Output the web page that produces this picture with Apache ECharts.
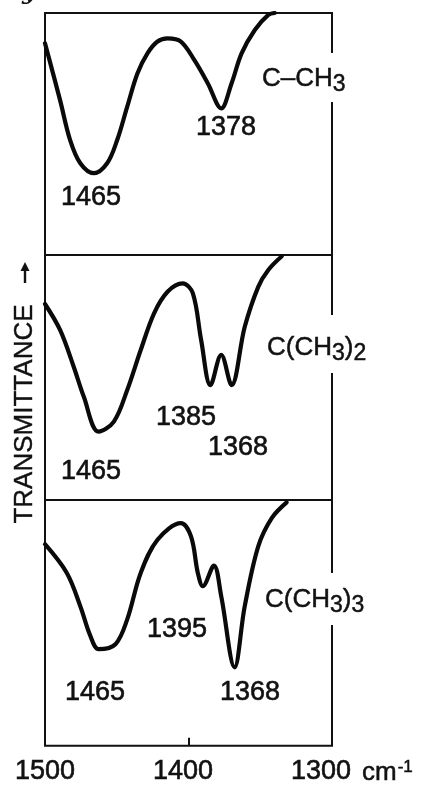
<!DOCTYPE html>
<html><head><meta charset="utf-8">
<script src="https://cdn.jsdelivr.net/npm/echarts@6/dist/echarts.min.js"></script>
<style>html,body{margin:0;padding:0;background:#fff}#c{width:422px;height:785px}</style>
</head><body><div id="c"></div>
<script>
// x-axis ticks (cm-1)
const xTicks = [1500, 1400, 1300];
// Panel 1: C-CH3
const wn1 = [1500,1489.5,1482.5,1475.4,1466,1456.7,1449.7,1442.7,1435.6,1428.6,1421.6,1414.6,1405.3,1396,1386.5,1377.2,1370,1363,1353.8,1344.4,1340];
const t1  = [87.5,64,47.5,37.9,33.8,37.9,47.5,61.3,75,83.3,88.2,89.5,88.2,80.6,70.9,60.6,70.9,83.3,93,99.2,100];
// Panel 2: C(CH3)2
const wn2 = [1500,1489.5,1480,1473,1462.6,1452,1442.7,1433.3,1424,1414.6,1404,1397,1391.2,1384.7,1377.2,1370,1360.8,1351.4,1344.4,1335];
const t2  = [80,69.4,54.4,42.2,27.9,32,44.9,61.2,76.2,85,88.4,84.4,65.3,46.9,59.2,46.9,70.7,87,93.9,99.5];
// Panel 3: C(CH3)3
const wn3 = [1500,1484.8,1475.4,1468.4,1462.6,1450.9,1442.7,1433.3,1421.6,1405.3,1398.2,1393.5,1390,1382.3,1377.2,1367.9,1360.8,1351.4,1342,1331.6];
const t3  = [82,70.3,56.8,44.7,39.3,41.3,51.4,70.3,83.8,90.6,85.1,70.3,64.9,73.3,60.9,31.9,56.8,81.1,92.6,99];
// Annotations
const peakLabels1 = ['1465', '1378'];
const peakLabels2 = ['1465', '1385', '1368'];
const peakLabels3 = ['1465', '1395', '1368'];
const yTitle = 'TRANSMITTANCE';

const FONT = '"Liberation Sans", "DejaVu Sans", sans-serif';
const chart = echarts.init(document.getElementById('c'), null, {renderer: 'canvas'});

function zip(a, b) { return a.map((v, i) => [v, b[i]]); }

const gridL = 45, gridW = 287;
const grids = [
  {left: gridL, width: gridW, top: 13, height: 242},
  {left: gridL, width: gridW, top: 255, height: 245},
  {left: gridL, width: gridW, top: 500, height: 246}
].map(g => Object.assign(g, {show: true, borderColor: '#111', borderWidth: 2, backgroundColor: 'transparent'}));

function xAxis(i, showLabels) {
  return {
    type: 'value', gridIndex: i, min: 1300, max: 1500, interval: 100, inverse: true,
    axisLine: {show: false}, splitLine: {show: false},
    axisTick: {show: showLabels, inside: true, length: 8, lineStyle: {color: '#111', width: 2}},
    axisLabel: {
      show: showLabels, margin: 12, color: '#111', fontSize: 27, fontFamily: FONT,
      textBorderColor: '#111', textBorderWidth: 0.6,
      formatter: v => '{l' + v + '|' + v + '}',
      rich: {
        l1500: {fontSize: 27, fontFamily: FONT, color: '#111', textBorderColor: '#111', textBorderWidth: 0.6, padding: [0, 0, 0, 0]},
        l1400: {fontSize: 27, fontFamily: FONT, color: '#111', textBorderColor: '#111', textBorderWidth: 0.6, padding: [0, 11, 0, 0]},
        l1300: {fontSize: 27, fontFamily: FONT, color: '#111', textBorderColor: '#111', textBorderWidth: 0.6, padding: [0, 22, 0, 0]}
      }
    }
  };
}
function yAxis(i) {
  return {type: 'value', gridIndex: i, min: 0, max: 100, show: false};
}
function series(i, wn, t) {
  return {
    type: 'line', xAxisIndex: i, yAxisIndex: i, data: zip(wn, t),
    smooth: 0.35, symbol: 'none', z: 5,
    lineStyle: {color: '#0a0a0a', width: 4.2, cap: 'round', join: 'round'}
  };
}

function txt(x, y, s, align) {
  return {type: 'text', z: 120, x: x, y: y,
    style: {text: s, font: '27px ' + FONT, fill: '#111', stroke: '#111', lineWidth: 0.6,
      textAlign: align || 'center', textVerticalAlign: 'middle'}};
}
const subRich = {
  m: {fontSize: 26, fontFamily: FONT, fill: '#111'},
  s: {fontSize: 23, fontFamily: FONT, fill: '#111', padding: [12, 0, 0, 0]}
};
function rtxt(x, y, s) {
  return {type: 'text', z: 120, x: x, y: y,
    style: {text: s, rich: subRich, font: '26px ' + FONT, fill: '#111', stroke: '#111', lineWidth: 0.5,
      textAlign: 'left', textVerticalAlign: 'middle'}};
}
function gap(y, h) {
  return {type: 'rect', z: 110, shape: {x: 326, y: y, width: 14, height: h}, style: {fill: '#fff'}};
}

const graphics = [
  gap(53, 49), gap(315, 58), gap(573, 52),
  // panel 1
  txt(91, 198, peakLabels1[0]), txt(226, 128, peakLabels1[1]),
  rtxt(262, 79, '{m|C–CH}{s|3}'),
  // panel 2
  txt(91, 472, peakLabels2[0]), txt(186, 418, peakLabels2[1]), txt(238, 448, peakLabels2[2]),
  rtxt(267, 348, '{m|C(CH}{s|3}{m|)}{s|2}'),
  // panel 3
  txt(95, 693, peakLabels3[0]), txt(177, 630, peakLabels3[1]), txt(250, 693, peakLabels3[2]),
  rtxt(265, 600, '{m|C(CH}{s|3}{m|)}{s|3}'),
  // axis unit
  {type: 'text', z: 120, x: 362, y: 773,
    style: {text: '{m|cm}{u|-1}', font: '26px ' + FONT, fill: '#111', stroke: '#111', lineWidth: 0.5,
      textAlign: 'left', textVerticalAlign: 'middle',
      rich: {m: {fontSize: 26, fontFamily: FONT, fill: '#111'}, u: {fontSize: 17, fontFamily: FONT, fill: '#111', padding: [0, 0, 12, 1]}}}},
  // y title
  {type: 'text', z: 120, x: 25, y: 414, rotation: Math.PI / 2,
    style: {text: yTitle, font: '26px ' + FONT, fill: '#111', stroke: '#111', lineWidth: 0.4,
      textAlign: 'center', textVerticalAlign: 'middle'}},
  // arrow of y title
  {type: 'line', z: 120, shape: {x1: 25, y1: 283, x2: 25, y2: 268}, style: {stroke: '#111', lineWidth: 2.4}},
  {type: 'polygon', z: 120, shape: {points: [[25, 262], [20.5, 271], [29.5, 271]]}, style: {fill: '#111'}},
  // cropped character at top-left
  {type: 'text', z: 120, x: 22, y: 5,
    style: {text: 'y', font: 'italic bold 26px "DejaVu Serif", serif', fill: '#111', textAlign: 'left', textVerticalAlign: 'bottom'}}
];

chart.setOption({
  animation: false,
  backgroundColor: '#fff',
  grid: grids,
  xAxis: [xAxis(0, false), xAxis(1, false), xAxis(2, true)],
  yAxis: [yAxis(0), yAxis(1), yAxis(2)],
  series: [series(0, wn1, t1), series(1, wn2, t2), series(2, wn3, t3)],
  graphic: graphics
});
</script></body></html>
